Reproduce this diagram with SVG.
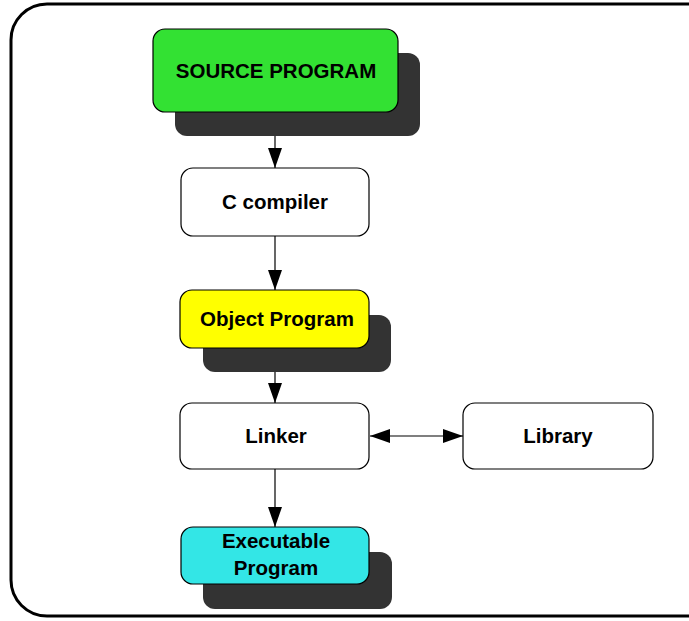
<svg xmlns="http://www.w3.org/2000/svg" width="689" height="621" viewBox="0 0 689 621">
<defs>
<marker id="ah" viewBox="0 0 20 14" refX="20" refY="7" markerWidth="20" markerHeight="14" markerUnits="userSpaceOnUse" orient="auto-start-reverse"><path d="M0,0 L20,7 L0,14 Z" fill="#000"/></marker>
</defs>
<style>
.shadow{fill:#333333;stroke:none}
.box{stroke:#000;stroke-width:1.2}
.lbl{font-family:"Liberation Sans",Arial,sans-serif;font-weight:bold;font-size:20.5px;fill:#000;text-anchor:middle}
.conn{stroke:#000;stroke-width:1.2;fill:none}
</style>
<rect x="11" y="4" width="714" height="612" rx="36" ry="36" fill="#fff" stroke="#000" stroke-width="3"/>
<g id="connectors">
<line class="conn" x1="275" y1="112" x2="275" y2="168" marker-end="url(#ah)"/>
<line class="conn" x1="275" y1="236" x2="275" y2="290" marker-end="url(#ah)"/>
<line class="conn" x1="275" y1="348" x2="275" y2="403" marker-end="url(#ah)"/>
<line class="conn" x1="275" y1="469" x2="275" y2="527" marker-end="url(#ah)"/>
<line class="conn" x1="370" y1="436" x2="463" y2="436" marker-start="url(#ah)" marker-end="url(#ah)"/>
</g>
<g id="source">
<rect class="shadow" x="175" y="53" width="245" height="83" rx="12"/>
<rect class="box" x="153" y="29" width="245" height="83" rx="12" fill="#33e133"/>
<text class="lbl" x="276" y="78">SOURCE PROGRAM</text>
</g>
<g id="compiler">
<rect class="box" x="181" y="168" width="188" height="68" rx="12" fill="#fff"/>
<text class="lbl" x="275" y="209">C compiler</text>
</g>
<g id="object">
<rect class="shadow" x="203" y="315" width="188" height="57" rx="12"/>
<rect class="box" x="180" y="290" width="189" height="58" rx="12" fill="#ffff00"/>
<text class="lbl" x="277" y="326">Object Program</text>
</g>
<g id="linker">
<rect class="box" x="180" y="403" width="189" height="66" rx="12" fill="#fff"/>
<text class="lbl" x="276" y="443">Linker</text>
</g>
<g id="library">
<rect class="box" x="463" y="403" width="190" height="66" rx="12" fill="#fff"/>
<text class="lbl" x="558" y="443">Library</text>
</g>
<g id="executable">
<rect class="shadow" x="203" y="552" width="189" height="57" rx="12"/>
<rect class="box" x="181" y="527" width="188" height="57" rx="12" fill="#33e6e6"/>
<text class="lbl" x="276" y="548">Executable</text>
<text class="lbl" x="276" y="575">Program</text>
</g>
</svg>
